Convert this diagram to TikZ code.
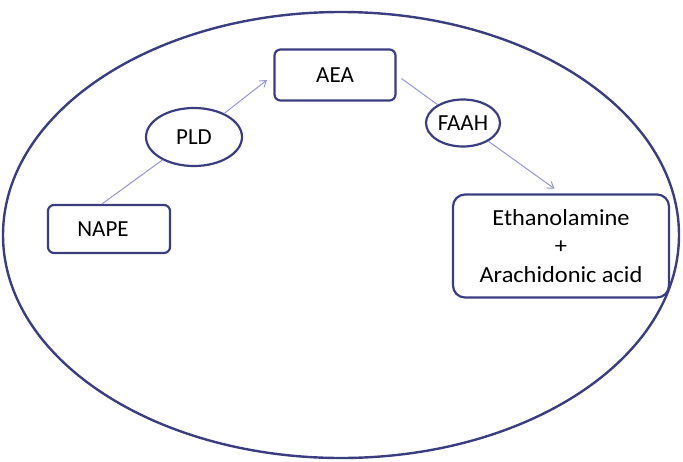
\documentclass[tikz,border=0pt]{standalone}
\usepackage{fontspec}
\setmainfont{Carlito}
\newfontfamily\widefont{Carlito}[FakeStretch=1.06]
\usepackage{xcolor}
\usetikzlibrary{shapes.geometric, arrows.meta, positioning}
\definecolor{cellblue}{RGB}{58,62,128}
\definecolor{linkblue}{RGB}{150,150,212}

\begin{document}
\begin{tikzpicture}[
    x=1pt, y=-1pt,
    box/.style={rectangle, rounded corners=6pt, draw=cellblue, line width=2.2pt, font=\fontsize{23}{28.5}\selectfont, align=center},
    enzyme/.style={ellipse, draw=cellblue, line width=2.2pt, inner sep=0pt, font=\fontsize{23}{26}\selectfont},
    link/.style={linkblue, line width=1pt},
    arrow/.style={link, -{Straight Barb[length=6pt, width=8pt]}}
]
\useasboundingbox (0,0) rectangle (683,461);
% cell outline
\draw[cellblue, line width=2.4pt] (341,235) ellipse [x radius=338, y radius=223];

% substrates and products
\node[box, minimum width=122pt, minimum height=48pt] (nape) at (109,229) {\hspace*{-12pt}NAPE};
\node[box, minimum width=121pt, minimum height=51pt] (aea) at (335,75) {AEA};
\node[box, rounded corners=12pt, minimum width=216pt, minimum height=103pt, font=\widefont\fontsize{23}{28.5}\selectfont] (prod) at (561,246) {Ethanolamine\\+\\Arachidonic acid};

% enzymes
\node[enzyme, minimum width=96pt, minimum height=58pt] (pld) at (194,137) {PLD};
\node[enzyme, minimum width=74pt, minimum height=47pt] (faah) at (463,123) {FAAH};

% Arrows
\draw[link] ([xshift=-7pt]nape.north) -- (pld);
\draw[arrow, shorten >=8pt] (pld) -- (aea.west);
\draw[link, shorten <=6pt] (aea.east) -- (faah);
\draw[arrow, shorten >=8pt] (faah) -- (prod.north);
\end{tikzpicture}
\end{document}
